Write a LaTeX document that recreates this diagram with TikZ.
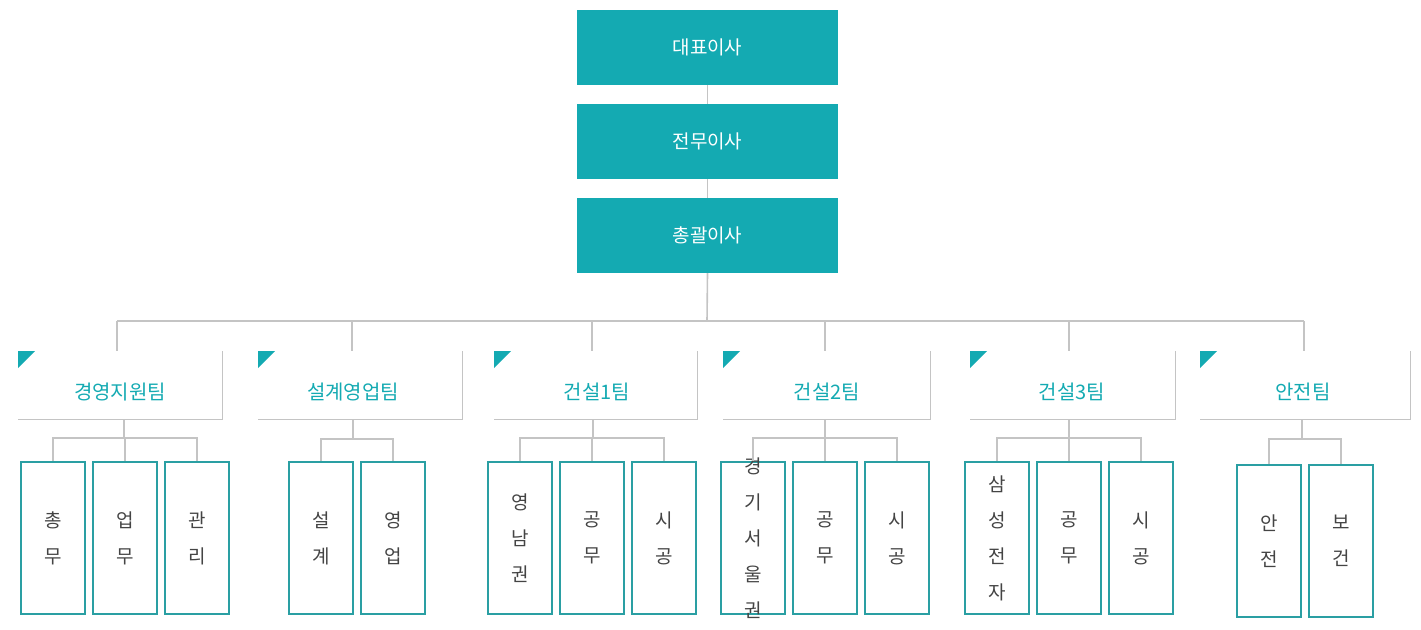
\documentclass[tikz,border=0pt]{standalone}
\usepackage{fontspec}
\newfontfamily\kr{Noto Sans CJK KR}
\definecolor{teal1}{HTML}{14AAB2}
\definecolor{teal2}{HTML}{2A9FA3}
\definecolor{lgray}{HTML}{C4C4C4}
\definecolor{tgray}{HTML}{444444}
\begin{document}
\begin{tikzpicture}[x=1pt,y=-1pt,
  topbox/.style={fill=teal1,text=white,minimum width=261pt,minimum height=75pt,inner sep=0,font=\kr\fontsize{19}{20}\selectfont},
  subbox/.style={draw=teal2,line width=2.2pt,minimum width=64pt,minimum height=152pt,inner sep=0,text=tgray,font=\kr\fontsize{19}{36}\selectfont,align=center},
  teamtxt/.style={text=teal1,font=\kr\fontsize{20}{22}\selectfont,inner sep=0},
  conn/.style={draw=lgray,line width=1.6pt}]
\useasboundingbox (0,0) rectangle (1421,629);
\node[topbox] (ceo) at (707.5,47.5) {대표이사};
\node[topbox] (vp) at (707.5,141.5) {전무이사};
\node[topbox] (gm) at (707.5,235.5) {총괄이사};
\draw[conn] (ceo.south) -- (vp.north) (vp.south) -- (gm.north);
\coordinate (bus) at (707,321);
\draw[conn] (gm.south) -- (bus);
\draw[conn] (117,321) -- (1304,321);
% teams
\foreach \n/\x/\w/\t/\c in {t1/18/204/경영지원팀/120, t2/258/204/설계영업팀/353, t3/494/203/건설1팀/597, t4/723/207/건설2팀/827, t5/970/205/건설3팀/1072, t6/1200/210/안전팀/1303}{
  \coordinate (\n nw) at (\x,351);
  \coordinate (\n ne) at (\x+\w,351);
  \coordinate (\n se) at (\x+\w,419);
  \coordinate (\n sw) at (\x,419);
  \draw[draw=lgray,line width=1pt] (\n ne) -- (\n se) -- (\n sw);
  \fill[teal1] (\n nw) -- ++(17,0) -- ++(-17,17) -- cycle;
  \node[teamtxt] (\n txt) at (\c,392) {\t};
}
\foreach \n/\x in {t1/117,t2/352,t3/592,t4/825,t5/1069,t6/1304}{
  \coordinate (\n top) at (\x,321);
  \coordinate (\n in) at (\x,351);
  \draw[conn] (\n top) -- (\n in);
}
% sub boxes
\foreach \n/\x/\y/\l in {a1/53/538/총\\무, a2/125/538/업\\무, a3/197/538/관\\리,
  b1/321/538/설\\계, b2/393/538/영\\업,
  c1/520/538/영\\남\\권, c2/592/538/공\\무, c3/664/538/시\\공,
  d1/753/538/경\\기\\서\\울\\권, d2/825/538/공\\무, d3/897/538/시\\공,
  e1/997/538/삼\\성\\전\\자, e2/1069/538/공\\무, e3/1141/538/시\\공,
  f1/1269/541/안\\전, f2/1341/541/보\\건}{
  \node[subbox] (\n) at (\x,\y) {};
  \node[text=tgray,font=\kr\fontsize{19}{36}\selectfont,align=center,inner sep=0] (\n t) at (\x,\y) {\l};
}
% sub connectors
\foreach \t/\cx/\a/\b/\c in {t1/124/a1/a2/a3, t3/593/c1/c2/c3, t4/825/d1/d2/d3, t5/1069/e1/e2/e3}{
  \coordinate (\t j) at (\cx,438);
  \draw[conn] (\cx,419) -- (\t j);
  \draw[conn] (\a.north) -- (\a.north |- \t j) -- (\c.north |- \t j) -- (\c.north);
  \draw[conn] (\b.north) -- (\b.north |- \t j);
}
\foreach \t/\cx/\a/\b in {t2/353/b1/b2, t6/1302/f1/f2}{
  \coordinate (\t j) at (\cx,439);
  \draw[conn] (\cx,419) -- (\t j);
  \draw[conn] (\a.north) -- (\a.north |- \t j) -- (\b.north |- \t j) -- (\b.north);
}
\end{tikzpicture}
\end{document}
